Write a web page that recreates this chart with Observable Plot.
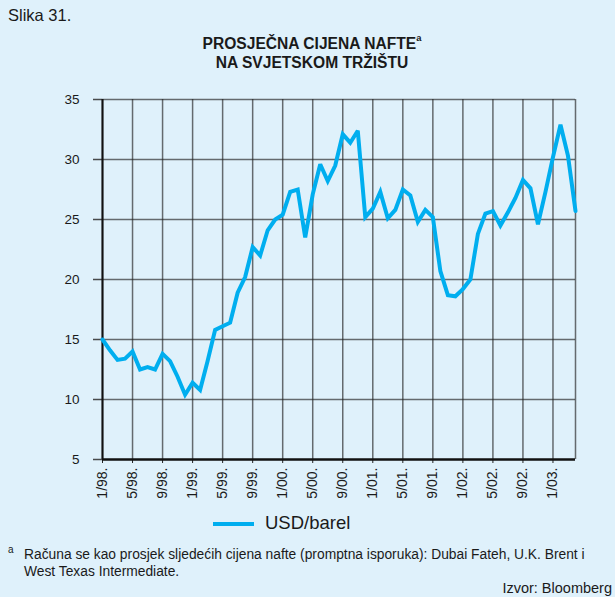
<!DOCTYPE html>
<html>
<head>
<meta charset="utf-8">
<script src="https://cdn.jsdelivr.net/npm/d3@7"></script>
<script src="https://cdn.jsdelivr.net/npm/@observablehq/plot@0.6"></script>
<style>
  html, body { margin: 0; padding: 0; }
  body { width: 615px; height: 597px; background: #dff1fb; position: relative; overflow: hidden;
         font-family: "Liberation Sans", Arial, sans-serif; color: #1a1a1a; }
  .abs { position: absolute; white-space: nowrap; }
  #chart { position: absolute; left: 0; top: 0; }
  sup { font-size: 0.6em; }
</style>
</head>
<body>
<div class="abs" style="left:8px; top:6px; font-size:16.5px;">Slika 31.</div>
<div class="abs" style="left:0; width:624px; top:31px; text-align:center; font-size:15.6px; font-weight:bold; line-height:19px;">
  PROSJEČNA CIJENA NAFTE<sup style="position:relative; top:-2px;">a</sup><br>NA SVJETSKOM TRŽIŠTU
</div>
<div id="chart"></div>
<div class="abs" style="left:213px; top:522px; width:41px; height:4px; background:#00aeef;"></div>
<div class="abs" style="left:265px; top:512px; font-size:18.5px;">USD/barel</div>
<div class="abs" style="left:8px; top:544px; font-size:10px;">a</div>
<div class="abs" style="left:24px; top:546px; font-size:13.8px; line-height:17px;">Računa se kao prosjek sljedećih cijena nafte (promptna isporuka): Dubai Fateh, U.K. Brent i<br>West Texas Intermediate.</div>
<div class="abs" style="right:3px; top:580px; font-size:14.5px;">Izvor: Bloomberg</div>
<script>
// Monthly average oil price, USD/barrel, Jan 1998 – Apr 2003
const startYear = 1998;
const prices = [
  15.0, 14.1, 13.3, 13.4, 14.0, 12.5, 12.7, 12.5, 13.8, 13.2, 11.9, 10.4,
  11.4, 10.8, 13.2, 15.8, 16.1, 16.4, 18.9, 20.2, 22.7, 22.0, 24.1, 25.0,
  25.4, 27.3, 27.5, 23.5, 27.1, 29.6, 28.2, 29.5, 32.1, 31.4, 32.4, 25.2,
  25.9, 27.3, 25.1, 25.8, 27.5, 27.0, 24.8, 25.8, 25.2, 20.7, 18.7, 18.6,
  19.2, 20.0, 23.8, 25.5, 25.7, 24.5, 25.6, 26.8, 28.3, 27.6, 24.6, 27.3,
  30.2, 32.9, 30.3, 25.7
];
const tickLabels = ["1/98.","5/98.","9/98.","1/99.","5/99.","9/99.","1/00.","5/00.",
                    "9/00.","1/01.","5/01.","9/01.","1/02.","5/02.","9/02.","1/03."];
const yTicks = [5, 10, 15, 20, 25, 30, 35];
const seriesName = "USD/barel";

const data = prices.map((v, i) => ({month: i, price: v}));
const xTicks = tickLabels.map((_, k) => k * 4);
const lastMonth = prices.length - 1;

const chart = Plot.plot({
  width: 615,
  height: 510,
  marginLeft: 102,
  marginRight: 40,
  marginTop: 99,
  marginBottom: 51,
  style: {background: "transparent", fontFamily: "Liberation Sans, Arial, sans-serif", fontSize: "13px", color: "#1a1a1a"},
  x: {domain: [0, lastMonth]},
  y: {domain: [5, 35]},
  marks: [
    Plot.gridY(yTicks.filter(t => t > 5), {stroke: "#222", strokeOpacity: 0.65, strokeWidth: 1.5}),
    Plot.gridX([...xTicks, lastMonth], {stroke: "#222", strokeOpacity: 0.65, strokeWidth: 1.5}),
    Plot.axisY(yTicks, {tickSize: 9, tickPadding: 14, stroke: "#222", strokeWidth: 1.5, strokeOpacity: 0.8, fontSize: 13.5, label: null}),
    Plot.axisX(xTicks, {tickSize: 4, tickPadding: 4, tickRotate: -90, tickFormat: (d) => tickLabels[d / 4], fontSize: 14, label: null, stroke: "#222"}),
    Plot.ruleX([0], {stroke: "#111", strokeWidth: 2}),
    Plot.ruleY([5], {stroke: "#111", strokeWidth: 2.5}),
    Plot.line(data, {x: "month", y: "price", stroke: "#00aeef", strokeWidth: 4, strokeLinejoin: "miter", strokeMiterlimit: 3})
  ]
});
document.getElementById("chart").appendChild(chart);
</script>
</body>
</html>
